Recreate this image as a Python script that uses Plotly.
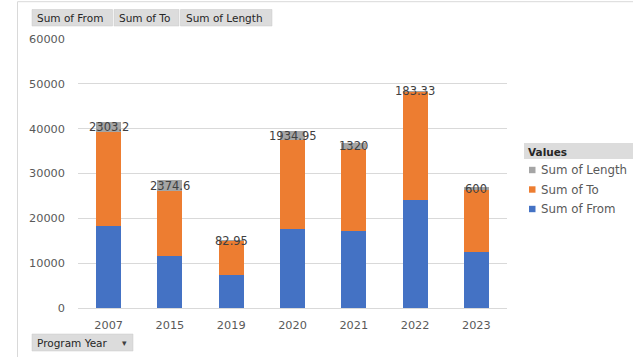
import plotly.graph_objects as go

# Pivot chart data: sums per program year
years = ["2007", "2015", "2019", "2020", "2021", "2022", "2023"]
sum_from = [18400, 11700, 7400, 17600, 17100, 24100, 12600]
sum_to = [20800, 14400, 7600, 19900, 18400, 24100, 13750]
sum_length = [2303.2, 2374.6, 82.95, 1934.95, 1320, 183.33, 600]
length_labels = ["2303.2", "2374.6", "82.95", "1934.95", "1320", "183.33", "600"]
y_ticks = [0, 10000, 20000, 30000, 40000, 50000, 60000]

BLUE = "#4472C4"
ORANGE = "#ED7D31"
GRAY = "#A5A5A5"
TEXT = "#595959"
GRID = "#D9D9D9"
FONT = "DejaVu Sans"

W, H = 633, 357
ML, MR, MT, MB = 78, 126, 39, 49
PW, PH = W - ML - MR, H - MT - MB

fig = go.Figure()
for name, vals, color in [("Sum of From", sum_from, BLUE),
                          ("Sum of To", sum_to, ORANGE),
                          ("Sum of Length", sum_length, GRAY)]:
    fig.add_trace(go.Bar(x=years, y=vals, name=name, marker_color=color,
                         marker_line_width=0, showlegend=False))

# Data labels centred on the Length segment (x given as category index)
annotations = []
for i, (f, t, ln, lab) in enumerate(zip(sum_from, sum_to, sum_length, length_labels)):
    annotations.append(dict(x=i, y=f + t + ln / 2, xref="x", yref="y",
                            text=lab, showarrow=False, yanchor="middle",
                            font=dict(family=FONT, size=11.5, color="#404040")))


def px_x(p):
    # figure pixel -> paper fraction (paper spans the plot area)
    return (p - ML) / PW


def px_y(p):
    return (H - MB - p) / PH


shapes = []
# Chart frame (left and top edges)
shapes.append(dict(type="line", xref="paper", yref="paper",
                   x0=px_x(17.5), x1=px_x(17.5), y0=px_y(1.7), y1=px_y(H),
                   line=dict(color=GRID, width=1)))
shapes.append(dict(type="line", xref="paper", yref="paper",
                   x0=px_x(17.5), x1=px_x(W), y0=px_y(1.7), y1=px_y(1.7),
                   line=dict(color=GRID, width=1)))


def button(x0, x1, y0, y1, label, arrow=False):
    shapes.append(dict(type="rect", xref="paper", yref="paper",
                       x0=px_x(x0), x1=px_x(x1), y0=px_y(y1), y1=px_y(y0),
                       fillcolor="#DCDCDC", line=dict(color="#C8C8C8", width=0.5),
                       layer="above"))
    annotations.append(dict(x=px_x(x0 + 3), y=px_y((y0 + y1) / 2), xref="paper",
                            yref="paper", text=label, showarrow=False,
                            xanchor="left", yanchor="middle",
                            font=dict(family=FONT, size=10.5, color="#262626")))
    if arrow:
        annotations.append(dict(x=px_x(x1 - 9), y=px_y((y0 + y1) / 2), xref="paper",
                                yref="paper", text="▾", showarrow=False,
                                xanchor="center", yanchor="middle",
                                font=dict(family=FONT, size=9, color="#404040")))


# Field buttons
button(32, 112.5, 9.5, 26, "Sum of From")
button(114, 179, 9.5, 26, "Sum of To")
button(180.5, 272, 9.5, 26, "Sum of Length")
button(32, 133, 334, 351, "Program Year", arrow=True)

# Legend block
shapes.append(dict(type="rect", xref="paper", yref="paper",
                   x0=px_x(524), x1=px_x(W), y0=px_y(159), y1=px_y(143),
                   fillcolor="#DCDCDC", line=dict(width=0), layer="above"))
annotations.append(dict(x=px_x(526), y=px_y(151.5), xref="paper", yref="paper",
                        text="<b>Values</b>", showarrow=False, xanchor="left",
                        yanchor="middle",
                        font=dict(family=FONT, size=10.5, color="#262626")))
for i, (name, color) in enumerate([("Sum of Length", GRAY), ("Sum of To", ORANGE),
                                   ("Sum of From", BLUE)]):
    yc = 170 + i * 19.5
    shapes.append(dict(type="rect", xref="paper", yref="paper",
                       x0=px_x(529), x1=px_x(535.5), y0=px_y(yc + 3.2), y1=px_y(yc - 3.2),
                       fillcolor=color, line=dict(width=0)))
    annotations.append(dict(x=px_x(539), y=px_y(yc), xref="paper", yref="paper",
                            text=name, showarrow=False, xanchor="left",
                            yanchor="middle",
                            font=dict(family=FONT, size=11.8, color=TEXT)))

fig.update_layout(
    width=W, height=H,
    margin=dict(l=ML, r=MR, t=MT, b=MB, pad=0),
    barmode="stack", bargap=0.59,
    plot_bgcolor="white", paper_bgcolor="white",
    font=dict(family=FONT, size=11, color=TEXT),
    xaxis=dict(type="category", range=[-0.5, len(years) - 0.5], showgrid=False,
               showline=True, linecolor=GRID, linewidth=1, ticks="",
               tickfont=dict(family=FONT, size=11.3, color=TEXT),
               ticklabelstandoff=6),
    yaxis=dict(range=[0, 60000], tickvals=y_ticks,
               ticktext=[str(v) for v in y_ticks], showgrid=True,
               gridcolor=GRID, gridwidth=1, zeroline=False, showline=False,
               ticks="", tickfont=dict(family=FONT, size=11.3, color=TEXT),
               ticklabelstandoff=12),
    shapes=shapes,
    annotations=annotations,
    showlegend=False,
)

fig.write_html("out.html")
